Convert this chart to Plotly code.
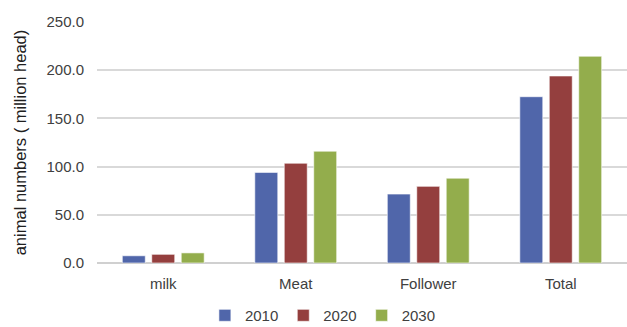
import plotly.graph_objects as go

categories = ["milk", "Meat", "Follower", "Total"]
years = ["2010", "2020", "2030"]
values_2010 = [7.5, 94.0, 71.5, 172.5]
values_2020 = [9.0, 103.5, 79.5, 194.0]
values_2030 = [10.5, 116.0, 88.0, 214.5]
y_ticks = [0, 50, 100, 150, 200, 250]
y_tick_labels = ["0.0", "50.0", "100.0", "150.0", "200.0", "250.0"]

colors = ["#5066AA", "#943F3E", "#93AD4C"]
series = [values_2010, values_2020, values_2030]

FONT = "Liberation Sans"
TEXT = "#404040"

fig = go.Figure()
for name, vals, col in zip(years, series, colors):
    fig.add_trace(go.Bar(
        x=categories, y=vals, name=name,
        marker=dict(color=col, line=dict(color="rgba(255,255,255,0.6)", width=1)),
    ))

fig.update_layout(
    width=627, height=327,
    margin=dict(l=97, r=0, t=22, b=64, autoexpand=False),
    paper_bgcolor="white", plot_bgcolor="white",
    barmode="group", bargap=0.333, bargroupgap=0.22,
    font=dict(family=FONT, size=14, color=TEXT),
    showlegend=True,
    legend=dict(
        orientation="h", x=0.515, xanchor="center", xref="container",
        y=0.035, yanchor="middle", yref="container",
        font=dict(family=FONT, size=15, color=TEXT),
        itemwidth=30, traceorder="normal", tracegroupgap=0,
    ),
    xaxis=dict(
        showgrid=False, showline=False, ticks="", ticklabelstandoff=10,
        tickfont=dict(size=15, color=TEXT),
    ),
    yaxis=dict(
        range=[0, 250], tickvals=y_ticks, ticktext=y_tick_labels,
        showgrid=True, gridcolor="#D9D9D9", gridwidth=1.5,
        zeroline=True, zerolinecolor="#D0D0D0", zerolinewidth=1.5,
        showline=False, ticks="", ticklabelstandoff=12,
        tickfont=dict(size=15, color=TEXT),
        title=dict(text="animal numbers ( million head)", standoff=15,
                   font=dict(size=16.5, color="#202020")),
    ),
)

fig.write_html("out.html")
